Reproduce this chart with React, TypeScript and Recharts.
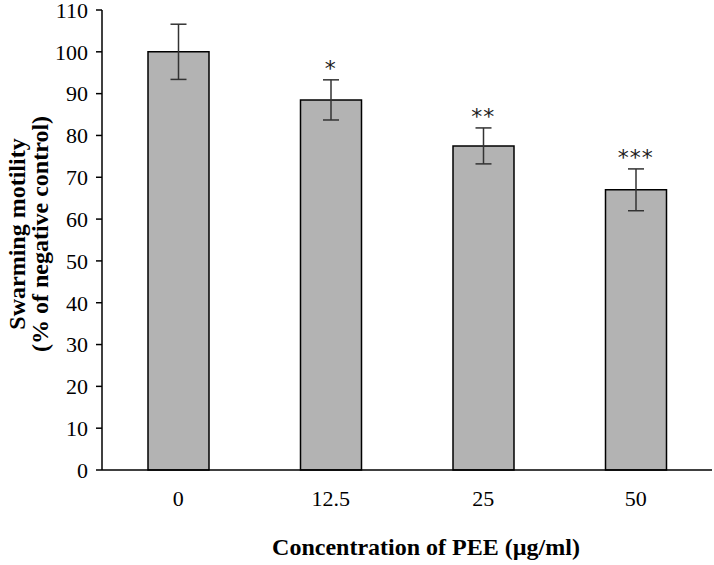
import { ComposedChart, Bar, Line, XAxis, YAxis, ErrorBar, LabelList, Label } from 'recharts';

const concentrations = ['0', '12.5', '25', '50'];
const motility = [100, 88.5, 77.5, 67];
const errors = [6.6, 4.8, 4.3, 5.0];
const significance = ['', '*', '**', '***'];
const yTicks = [0, 10, 20, 30, 40, 50, 60, 70, 80, 90, 100, 110];

const data = concentrations.map((c, i) => ({
  conc: c,
  value: motility[i],
  err: errors[i],
  top: motility[i] + errors[i],
  sig: significance[i],
}));

const font = '"Liberation Serif", "Times New Roman", serif';

const YTitle = (props: any) => {
  const vb = props.viewBox || {};
  const cy = vb.y + vb.height / 2 - 6;
  return (
    <g fontFamily={font} fontWeight="bold" fontSize={24} fill="#000">
      <text x={17} y={cy} transform={`rotate(-90, 17, ${cy})`} textAnchor="middle" dominantBaseline="central">
        Swarming motility
      </text>
      <text x={40} y={cy} transform={`rotate(-90, 40, ${cy})`} textAnchor="middle" dominantBaseline="central">
        (% of negative control)
      </text>
    </g>
  );
};

const Stars = (props: any) => {
  const { x, y, value } = props;
  if (!value) return null;
  return (
    <text
      x={x}
      y={y - 4}
      textAnchor="middle"
      fontFamily='"DejaVu Sans", sans-serif'
      fontSize={22}
      letterSpacing={1}
      fill="#222"
    >
      {value}
    </text>
  );
};

export default function App() {
  return (
    <div style={{ position: 'fixed', left: 0, top: 0, width: 714, height: 565, background: '#fff' }}>
      <ComposedChart width={714} height={565} data={data} margin={{ top: 10, right: 2, left: 0, bottom: 0 }}>
        <XAxis
          dataKey="conc"
          height={95}
          tickLine={false}
          axisLine={{ stroke: '#000', strokeWidth: 1.5 }}
          tick={{ fill: '#000', fontSize: 22, fontFamily: font }}
          tickMargin={14}
        >
          <Label
            value="Concentration of PEE (µg/ml)"
            position="insideBottom"
            offset={10}
            dx={19}
            style={{ fontFamily: font, fontWeight: 'bold', fontSize: 24, fill: '#000' }}
          />
        </XAxis>
        <YAxis
          width={102}
          domain={[0, 110]}
          ticks={yTicks}
          interval={0}
          tickSize={6}
          tickMargin={8}
          axisLine={{ stroke: '#000', strokeWidth: 1.5 }}
          tickLine={{ stroke: '#000', strokeWidth: 1.5 }}
          tick={{ fill: '#000', fontSize: 22, fontFamily: font }}
        >
          <Label content={<YTitle />} />
        </YAxis>
        <Bar dataKey="value" fill="#b3b3b3" stroke="#000" strokeWidth={1.5} barSize={61} isAnimationActive={false}>
          <ErrorBar dataKey="err" width={8} stroke="#333" strokeWidth={1.5} />
        </Bar>
        <Line dataKey="top" stroke="none" dot={false} activeDot={false} isAnimationActive={false}>
          <LabelList dataKey="sig" content={<Stars />} />
        </Line>
      </ComposedChart>
    </div>
  );
}
